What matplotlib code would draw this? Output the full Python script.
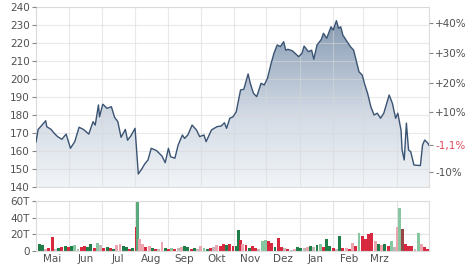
import datetime as dt
import numpy as np
import matplotlib
matplotlib.use("Agg")
import matplotlib.pyplot as plt
import matplotlib.dates as mdates
from matplotlib.colors import LinearSegmentedColormap
from matplotlib.patches import Polygon

# ---------------- data ----------------
start_date = dt.date(2022, 5, 1)

price_day = [0, 2, 5, 9, 10, 14, 17, 20, 24, 28, 32, 36, 40, 44, 46, 49, 53, 55, 58, 59,
             62, 66, 70, 73, 76, 79, 83, 85, 88, 92, 95, 98, 101, 104, 107, 112, 117, 120,
             123, 125, 129, 132, 136, 138, 141, 145, 149, 152, 156, 158, 163, 168, 172, 175,
             177, 180, 183, 186, 188, 190, 193, 197, 199, 202, 205, 209, 212, 215, 218, 221,
             224, 227, 230, 232, 234, 238, 244, 247, 249, 253, 256, 258, 261, 265, 267, 270,
             274, 276, 279, 281, 283, 285, 289, 292, 295, 300, 303, 305, 308, 311, 314, 317,
             320, 323, 328, 331, 334, 336, 339, 340, 342, 344, 346, 348, 351, 357, 359, 361,
             364, 365]
price = [165, 172, 174, 176.8, 173.5, 172, 169.8, 168, 166.5, 169.4, 161.5, 165.2, 173.2,
         172, 171, 169.4, 176.3, 174.4, 185.6, 179, 186, 183.7, 184.6, 178.7, 176.3, 167.6,
         172, 166, 168.3, 172.6, 147.2, 149.8, 152.8, 155, 161.5, 160.2, 157.2, 153.5,
         161.5, 156.8, 156, 163.3, 168.9, 167, 168.9, 174.4, 171.7, 168, 168.9, 165.2,
         171.7, 173.5, 173.9, 175.7, 172.6, 178.2, 179, 181.8, 188, 193.9, 194.3, 202.8,
         197.6, 192, 190.2, 197.6, 196.7, 200.4, 207.8, 214.3, 218.9, 218, 220.7, 216,
         216.5, 215.7, 212.4, 214.3, 218.3, 215.2, 216, 211, 218.9, 222, 225.4, 222.6,
         229, 227.2, 232.4, 228.2, 229, 224.4, 220.7, 218, 216, 204, 202.2, 197.6, 192,
         184.6, 180, 181, 178.2, 181, 191.1, 186.5, 178.2, 181, 171.7, 160.6, 155, 175.5,
         160.6, 159.6, 152.2, 151.9, 163.3, 166.1, 164.3, 163.2]

vol_day = [0, 3, 6, 9, 12, 15, 18, 21, 24, 27,
           30, 33, 36, 39, 42, 45, 48, 51, 54, 57,
           60, 63, 66, 69, 72, 75, 78, 81, 84, 87,
           90, 93, 94.5, 96, 99, 102, 105, 108, 111, 114,
           117, 120, 123, 126, 129, 132, 135, 138, 141, 144,
           147, 150, 153, 156, 159, 162, 165, 168, 171, 174,
           177, 180, 183, 186, 188, 190, 192, 195, 198, 201,
           204, 207, 210, 213, 216, 219, 222, 225, 228, 231,
           234, 237, 240, 243, 246, 249, 252, 255, 258, 261,
           264, 267, 270, 273, 276, 279, 282, 285, 288, 291,
           294, 297, 300, 303, 306, 309, 312, 315, 318, 321,
           324, 327, 330, 333, 336, 338, 340, 343, 346, 349,
           352, 355, 358, 361, 364]
volume_k = [8, 9, 7, 3, 4, 17, 2, 4, 5, 6,
            5, 6, 7, 3, 5, 6, 5, 9, 4, 10,
            7, 4, 5, 4, 3, 7, 8, 6, 5, 3,
            4, 29, 60, 15, 9, 5, 6, 4, 3, 3,
            11, 4, 3, 4, 3, 4, 5, 6, 5, 3,
            4, 3, 6, 4, 3, 4, 5, 7, 6, 9,
            7, 8, 6, 6, 25, 13, 8, 7, 4, 6,
            4, 3, 12, 13, 12, 10, 5, 16, 5, 4,
            2, 1, 2, 5, 4, 4, 5, 6, 5, 7,
            8, 5, 15, 6, 4, 3, 18, 4, 4, 3,
            10, 6, 22, 18, 14, 20, 22, 12, 8, 7,
            8, 6, 12, 5, 29, 52, 27, 8, 6, 6,
            2, 22, 8, 5, 3]
vol_kind = ["G", "G", "G", "r", "R", "R", "n", "G", "R", "G",
            "R", "G", "g", "n", "R", "R", "G", "G", "R", "g",
            "n", "R", "G", "R", "G", "r", "r", "G", "G", "R",
            "G", "R", "m", "r", "r", "R", "r", "G", "R", "n",
            "r", "G", "R", "g", "R", "n", "r", "G", "G", "R",
            "G", "n", "r", "g", "G", "R", "n", "r", "R", "R",
            "G", "R", "R", "G", "G", "R", "r", "R", "G", "R",
            "R", "n", "g", "g", "R", "R", "G", "R", "R", "n",
            "R", "n", "r", "G", "G", "n", "r", "G", "n", "G",
            "g", "R", "G", "G", "R", "n", "G", "R", "r", "R",
            "r", "R", "g", "R", "R", "R", "R", "r", "G", "r",
            "G", "R", "g", "n", "r", "g", "b", "R", "R", "R",
            "n", "g", "r", "R", "R"]

price_ticks = [140, 150, 160, 170, 180, 190, 200, 210, 220, 230, 240]
pct_ticks = [0.40, 0.30, 0.20, 0.10, -0.10]
vol_ticks = [0, 20, 40, 60]
vol_tick_labels = ["0", "20T", "40T", "60T"]
month_labels = ["Mai", "Jun", "Jul", "Aug", "Sep", "Okt", "Nov", "Dez", "Jan", "Feb", "Mrz"]

# ---------------- derived ----------------
t0 = mdates.date2num(start_date)
px = np.array([t0 + d for d in price_day])
py = np.array(price)
vx = np.array([t0 + d for d in vol_day])
vy = np.array(volume_k)
base = price[0]
last = price[-1]
xmin, xmax = t0, t0 + 365

kind_colors = {"G": "#1f7d47", "g": "#86c6a0", "m": "#5aa97c", "R": "#d8283f",
               "r": "#eca4ae", "n": "#c3b6b6", "b": "#9a4545"}
vcolors = [kind_colors[k] for k in vol_kind]

txt = "#505050"
grid_c = "#e4e4e4"

fig = plt.figure(figsize=(4.74, 2.69), dpi=100)
ax = fig.add_axes([36 / 474, 1 - 187 / 269, (429 - 36) / 474, (187 - 7) / 269])
axv = fig.add_axes([36 / 474, 1 - 251 / 269, (429 - 36) / 474, (251 - 201) / 269])

# gradient fill under line
cmap = LinearSegmentedColormap.from_list(
    "g", [(0.0, "#f1f4f7"), (0.4, "#d3dbe5"), (0.7, "#a8b7c9"), (1.0, "#7a90aa")])
grad = np.linspace(0, 1, 256).reshape(-1, 1)
im = ax.imshow(grad, extent=[xmin, xmax, 140, 240], origin="lower", aspect="auto",
               cmap=cmap, zorder=1)
poly = Polygon(np.column_stack([np.r_[px[0], px, px[-1]], np.r_[140, py, 140]]),
               closed=True, facecolor="none", edgecolor="none")
ax.add_patch(poly)
im.set_clip_path(poly)
ax.plot(px, py, color="#3a5373", lw=1.0, zorder=3)

ax.set_xlim(xmin, xmax)
ax.set_ylim(140, 240)
ax.set_yticks(price_ticks)
ax.tick_params(axis="y", labelsize=7.5, colors="#888888", labelcolor=txt, length=3, pad=1.5,
               width=0.8)
ax.xaxis.set_major_locator(mdates.MonthLocator())
ax.tick_params(axis="x", length=0, labelbottom=False)
ax.set_axisbelow(False)
ax.grid(True, color="#d8d8d8", lw=0.8, alpha=0.55, zorder=2)
for s in ax.spines.values():
    s.set_color("#dddddd")
    s.set_linewidth(0.8)

# right percentage axis
axr = ax.twinx()
axr.set_ylim(140, 240)
rt = [base * (1 + p) for p in pct_ticks] + [last]
rl = [("+" if p > 0 else "-") + "%d%%" % round(abs(p) * 100) for p in pct_ticks]
chg = (last / base - 1) * 100
rl.append(("+" if chg > 0 else "-") + ("%.1f" % abs(chg)).replace(".", ",") + "%")
axr.set_yticks(rt)
axr.set_yticklabels(rl)
axr.tick_params(axis="y", labelsize=7.5, colors="#888888", labelcolor=txt, length=3, pad=1.5,
                width=0.8)
axr.get_yticklabels()[-1].set_color("#dd4b5e")
axr.yaxis.get_major_ticks()[-1].tick2line.set_color("#dd4b5e")
for s in axr.spines.values():
    s.set_visible(False)

# volume
axv.bar(vx, vy, width=2.7, color=vcolors, align="center", zorder=2, linewidth=0)
axv.set_xlim(xmin, xmax)
axv.set_ylim(0, 60)
axv.set_yticks(vol_ticks)
axv.set_yticklabels(vol_tick_labels)
axv.tick_params(axis="y", labelsize=7.5, colors="#888888", labelcolor=txt, length=3, pad=1.5,
                width=0.8)
axv.xaxis.set_major_locator(mdates.MonthLocator())
axv.xaxis.set_major_formatter(plt.NullFormatter())
mid = [mdates.date2num(dt.date(2022 + (5 + i - 1) // 12, (5 + i - 1) % 12 + 1, 16))
       for i in range(len(month_labels))]
axv.set_xticks(mid, minor=True)
axv.set_xticklabels(month_labels, minor=True)
axv.tick_params(axis="x", which="both", length=0, labelsize=7.5, labelcolor=txt, pad=2)
axv.grid(True, which="major", color=grid_c, lw=0.8, zorder=0)
for s in axv.spines.values():
    s.set_color("#dddddd")
    s.set_linewidth(0.8)

fig.savefig("out.png", dpi=100)
